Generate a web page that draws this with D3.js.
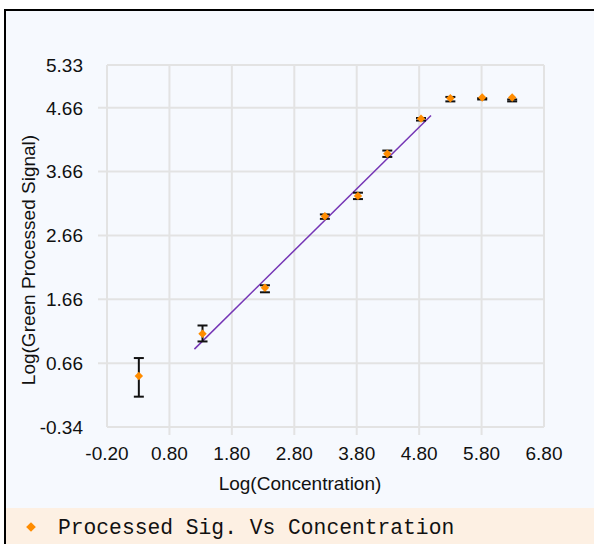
<!DOCTYPE html>
<html>
<head>
<meta charset="utf-8">
<script src="https://cdn.jsdelivr.net/npm/d3@7"></script>
<style>
  body { margin: 0; background: #fff; }
  svg { display: block; }
</style>
</head>
<body>
<svg width="594" height="544"></svg>
<script>
// values
var concX  = [0.31, 1.33, 2.33, 3.29, 3.82, 4.29, 4.83, 5.30, 5.81, 6.29];
var signalY = [0.46, 1.12, 1.84, 2.96, 3.28, 3.94, 4.49, 4.81, 4.82, 4.82];
var errLow  = [0.135, 1.00, 1.77, 2.92, 3.23, 3.89, 4.46, 4.76, 4.79, 4.76];
var errHigh = [0.74, 1.25, 1.88, 2.99, 3.33, 3.99, 4.50, 4.83, 4.81, 4.79];
var fitX = [1.20, 4.99];
var fitY = [0.88, 4.54];
var xTicks = [-0.20, 0.80, 1.80, 2.80, 3.80, 4.80, 5.80, 6.80];
var yTicks = [-0.34, 0.66, 1.66, 2.66, 3.66, 4.66, 5.33];
var seriesName = 'Processed Sig. Vs Concentration';

var svg = d3.select('svg');
var plot = {left: 107, top: 65, right: 544, bottom: 427};
var fmt = function(d) { return d3.format('.2f')(d).replace('\u2212', '-'); };

// frame and backgrounds
svg.append('rect').attr('x', 5).attr('y', 10).attr('width', 600).attr('height', 540)
  .attr('fill', '#f6f9fe').attr('stroke', '#000').attr('stroke-width', 2);
svg.append('rect').attr('x', 6).attr('y', 508).attr('width', 590).attr('height', 40)
  .attr('fill', '#fdf0e3');

var x = d3.scaleLinear().domain([-0.20, 6.80]).range([plot.left, plot.right]);
var y = d3.scaleLinear().domain([-0.34, 5.33]).range([plot.bottom, plot.top]);

var grid = svg.append('g').attr('stroke', '#e3e3e3').attr('stroke-width', 2);
grid.selectAll('.vx').data(xTicks).enter().append('line')
  .attr('x1', function(d) { return x(d); }).attr('x2', function(d) { return x(d); })
  .attr('y1', plot.top)
  .attr('y2', function(d, i) { return (i === 0 || i === xTicks.length - 1) ? plot.bottom : plot.bottom + 8; });
grid.selectAll('.hy').data(yTicks).enter().append('line')
  .attr('y1', function(d) { return y(d); }).attr('y2', function(d) { return y(d); })
  .attr('x2', plot.right)
  .attr('x1', function(d, i) { return (i === 0 || i === yTicks.length - 1) ? plot.left : plot.left - 9; });

// tick labels
var font = '"Liberation Sans", Arial, sans-serif';
svg.append('g').selectAll('text').data(xTicks).enter().append('text')
  .attr('x', function(d) { return x(d); }).attr('y', 460)
  .attr('text-anchor', 'middle').attr('font-family', font).attr('font-size', 19)
  .attr('fill', '#111').text(fmt);
svg.append('g').selectAll('text').data(yTicks).enter().append('text')
  .attr('x', 83).attr('y', function(d) { return y(d); }).attr('dy', '0.36em')
  .attr('text-anchor', 'end').attr('font-family', font).attr('font-size', 19)
  .attr('fill', '#111').text(fmt);

// axis titles
svg.append('text').attr('x', 300).attr('y', 490).attr('text-anchor', 'middle')
  .attr('font-family', font).attr('font-size', 19).attr('fill', '#111')
  .text('Log(Concentration)');
svg.append('text').attr('transform', 'translate(35,' + 260 + ') rotate(-90)')
  .attr('text-anchor', 'middle').attr('font-family', font).attr('font-size', 19)
  .attr('fill', '#111').text('Log(Green Processed Signal)');

// fitted line
svg.append('line')
  .attr('x1', x(fitX[0])).attr('y1', y(fitY[0]))
  .attr('x2', x(fitX[1])).attr('y2', y(fitY[1]))
  .attr('stroke', '#7535b5').attr('stroke-width', 1.5);

var pts = concX.map(function(d, i) {
  return {x: d, y: signalY[i], lo: errLow[i], hi: errHigh[i]};
});

// error bars
var eb = svg.append('g').attr('stroke', '#111').attr('stroke-width', 2).attr('fill', 'none');
var ebG = eb.selectAll('g').data(pts).enter().append('g');
ebG.append('line')
  .attr('x1', function(d) { return x(d.x); }).attr('x2', function(d) { return x(d.x); })
  .attr('y1', function(d) { return y(d.lo); }).attr('y2', function(d) { return y(d.hi); });
ebG.append('line')
  .attr('x1', function(d) { return x(d.x) - 5; }).attr('x2', function(d) { return x(d.x) + 5; })
  .attr('y1', function(d) { return y(d.lo); }).attr('y2', function(d) { return y(d.lo); });
ebG.append('line')
  .attr('x1', function(d) { return x(d.x) - 5; }).attr('x2', function(d) { return x(d.x) + 5; })
  .attr('y1', function(d) { return y(d.hi); }).attr('y2', function(d) { return y(d.hi); });

// markers (drawn over the error bars)
var diamond = d3.symbol().type(d3.symbolDiamond2).size(45);
svg.append('g').selectAll('path').data(pts).enter().append('path')
  .attr('d', diamond)
  .attr('transform', function(d) { return 'translate(' + x(d.x) + ',' + y(d.y) + ')'; })
  .attr('fill', '#ff8c00');

// legend
svg.append('path').attr('d', d3.symbol().type(d3.symbolDiamond2).size(60))
  .attr('transform', 'translate(31,527)').attr('fill', '#ff8c00');
svg.append('text').attr('x', 58).attr('y', 534)
  .attr('font-family', '"Liberation Mono", "Courier New", monospace').attr('font-size', 21.3)
  .attr('fill', '#111').text(seriesName);
</script>
</body>
</html>
